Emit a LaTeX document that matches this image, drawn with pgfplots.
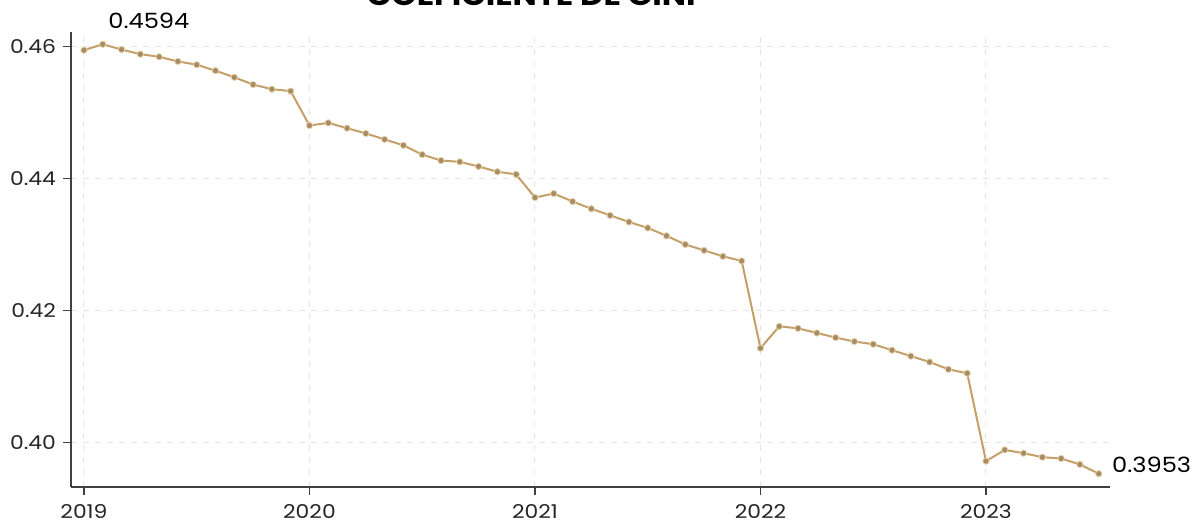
\documentclass[border=0pt]{standalone}
\usepackage{pgfplots}
\pgfplotsset{compat=1.18}
\usepackage{fontspec}
\setmainfont{Poppins}
\newfontfamily\widefont{Poppins}[FakeStretch=1.15]
\definecolor{linec}{RGB}{196,160,104}
\definecolor{markc}{RGB}{165,140,100}
\definecolor{markd}{RGB}{235,210,170}
\begin{document}
\begin{tikzpicture}
\begin{axis}[
  scale only axis,
  width=519.5pt, height=227.6pt,
  xmin=-0.69, xmax=54.6,
  ymin=0.3933, ymax=0.4622,
  axis x line*=bottom, axis y line*=left,
  axis line style={black!75, line width=0.6pt},
  xtick={0,12,24,36,48},
  xticklabels={2019,2020,2021,2022,2023},
  ytick={0.40,0.42,0.44,0.46},
  yticklabel style={/pgf/number format/.cd, fixed, fixed zerofill, precision=2},
  /pgf/number format/assume math mode=true,
  tick style={black!75, line width=0.6pt},
  major tick length=4pt,
  tick align=outside,
  ticklabel style={font=\widefont\fontsize{9.5}{11}\selectfont, text=black!85},
  xticklabel style={yshift=-1.5pt},
  grid=major,
  major grid style={dashed, black!10, line width=0.5pt},
  clip=false,
]
\addplot[color=linec, line width=1pt, mark=*, mark size=1.6pt,
  mark options={fill=markc, draw=markd, line width=0.4pt}] coordinates {
(0,0.4594) (1,0.4603) (2,0.4595) (3,0.4588) (4,0.4584) (5,0.4577)
(6,0.4572) (7,0.4563) (8,0.4553) (9,0.4542) (10,0.4535) (11,0.4532)
(12,0.4480) (13,0.4484) (14,0.4476) (15,0.4468) (16,0.4459) (17,0.4450)
(18,0.4436) (19,0.4427) (20,0.4425) (21,0.4418) (22,0.4410) (23,0.4406)
(24,0.4371) (25,0.4377) (26,0.4365) (27,0.4354) (28,0.4344) (29,0.4334)
(30,0.4325) (31,0.4313) (32,0.4300) (33,0.4291) (34,0.4282) (35,0.4275)
(36,0.4143) (37,0.4176) (38,0.4173) (39,0.4166) (40,0.4159) (41,0.4153)
(42,0.4149) (43,0.4140) (44,0.4131) (45,0.4122) (46,0.4111) (47,0.4105)
(48,0.3972) (49,0.3989) (50,0.3984) (51,0.3978) (52,0.3976) (53,0.3967)
(54,0.3953)
};
\node[anchor=base west, font=\widefont\fontsize{10.5}{12}\selectfont, inner sep=0pt, xshift=12pt, yshift=11pt] at (axis cs:0,0.4594) {0.4594};
\node[anchor=west, font=\widefont\fontsize{10.5}{12}\selectfont, inner sep=0pt, xshift=6.5pt, yshift=4.5pt] at (axis cs:54,0.3953) {0.3953};
\node[anchor=base, font=\widefont\bfseries\fontsize{14}{16}\selectfont, inner sep=0pt] at (rel axis cs:0.443,1) [yshift=13.3pt] {COEFICIENTE DE GINI};
\end{axis}
\pgfresetboundingbox
\useasboundingbox (-35.5pt,-20pt) rectangle (564pt,243.45pt);
\end{tikzpicture}
\end{document}
